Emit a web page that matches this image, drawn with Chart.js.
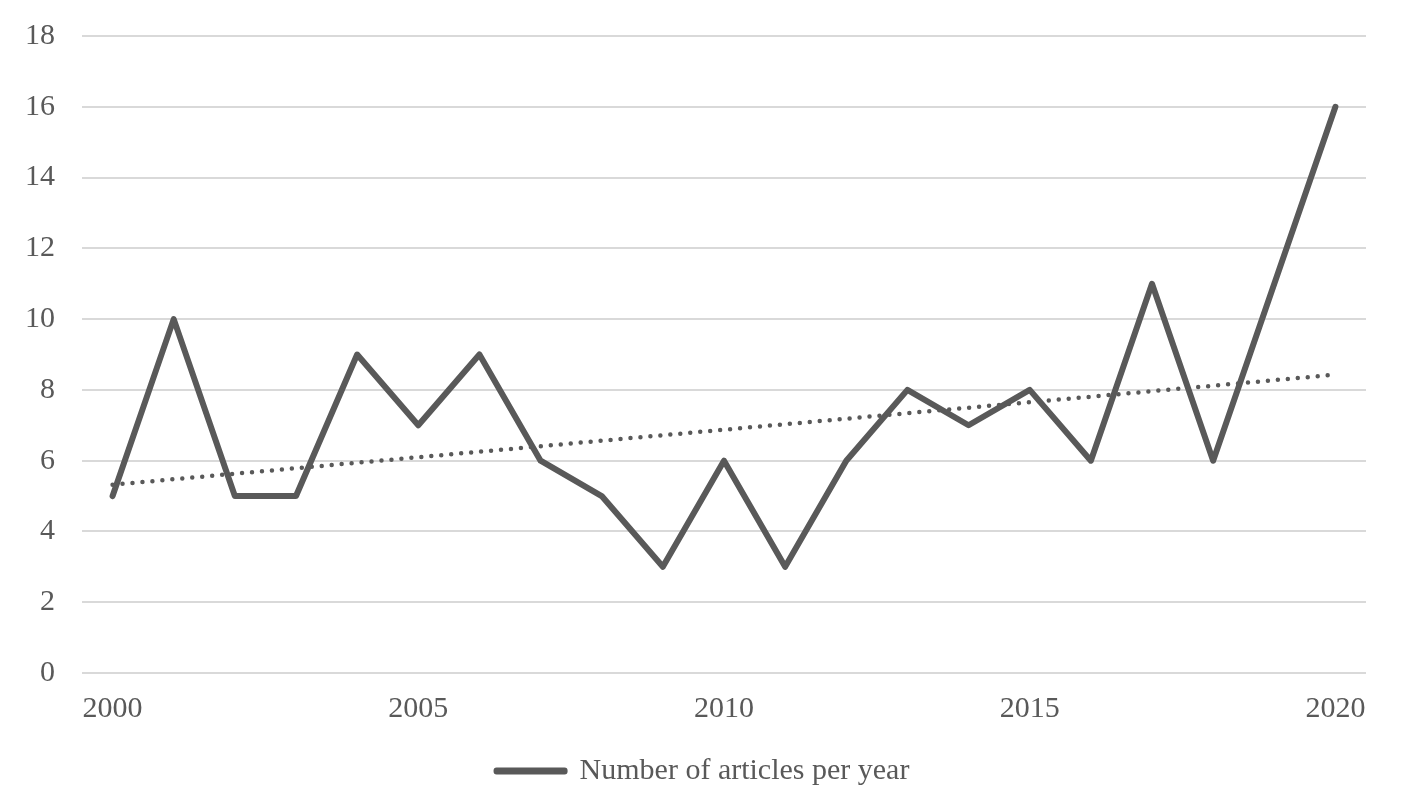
<!DOCTYPE html>
<html>
<head>
<meta charset="utf-8">
<script src="https://cdn.jsdelivr.net/npm/chart.js@4"></script>
<style>
  html, body { margin: 0; padding: 0; background: #fff; }
  #wrap { width: 1406px; height: 803px; }
</style>
</head>
<body>
<div id="wrap"><canvas id="articlesChart"></canvas></div>
<script>
// values
const years = ['2000', '2001', '2002', '2003', '2004', '2005', '2006', '2007', '2008', '2009', '2010',
               '2011', '2012', '2013', '2014', '2015', '2016', '2017', '2018', '2019', '2020'];
const articles = [5, 10, 5, 5, 9, 7, 9, 6, 5, 3, 6, 3, 6, 8, 7, 8, 6, 11, 6, 11, 16];
// linear trend: only the two ends are drawn, the line spans between them
const trend = [5.32, null, null, null, null, null, null, null, null, null, null,
               null, null, null, null, null, null, null, null, null, 8.43];
const yTicks = [0, 2, 4, 6, 8, 10, 12, 14, 16, 18];

const grey = '#595959';
const font = { family: '"Liberation Serif", "Times New Roman", serif', size: 30 };

const ctx = document.getElementById('articlesChart').getContext('2d');

new Chart(ctx, {
    type: 'line',
    data: {
        labels: years,
        datasets: [
            {
                label: 'Number of articles per year',
                data: articles,
                borderColor: grey,
                backgroundColor: grey,
                borderWidth: 6,
                borderCapStyle: 'round',
                borderJoinStyle: 'round',
                pointRadius: 0,
                tension: 0
            },
            {
                label: 'trend',
                data: trend,
                borderColor: grey,
                borderWidth: 4.5,
                borderDash: [0, 10],
                borderCapStyle: 'round',
                pointRadius: 0,
                spanGaps: true,
                tension: 0
            }
        ]
    },
    options: {
        responsive: true,
        maintainAspectRatio: false,
        animation: false,
        layout: { padding: { left: 0, right: 0, top: 36, bottom: 7 } },
        scales: {
            x: {
                offset: true,
                grid: { display: false },
                border: { display: false },
                ticks: {
                    color: grey,
                    font: font,
                    autoSkip: false,
                    maxRotation: 0,
                    padding: 10,
                    callback: function (val, i) {
                        return i % 5 === 0 ? years[i] : '';
                    }
                }
            },
            y: {
                min: 0,
                max: 18,
                afterBuildTicks: function (axis) {
                    axis.ticks = yTicks.map(v => ({ value: v }));
                },
                afterFit: function (axis) {
                    axis.width = 82;
                    axis.paddingTop = 0;
                    axis.paddingBottom = 0;
                },
                grid: { color: '#d9d9d9', lineWidth: 2, drawTicks: false },
                border: { display: false },
                ticks: { color: grey, font: Object.assign({}, font, { lineHeight: 1 }), padding: 27 }
            },
            // empty right-hand axis, only keeps a margin so the legend stays centred
            spacer: {
                type: 'linear',
                position: 'right',
                grid: { display: false },
                border: { display: false },
                ticks: { display: false },
                afterFit: function (axis) {
                    axis.width = 40;
                }
            }
        },
        plugins: {
            legend: {
                position: 'bottom',
                labels: {
                    color: grey,
                    font: font,
                    boxWidth: 68,
                    boxHeight: 1,
                    padding: 19,
                    filter: item => item.text !== 'trend'
                }
            },
            tooltip: { enabled: false }
        }
    }
});
</script>
</body>
</html>
